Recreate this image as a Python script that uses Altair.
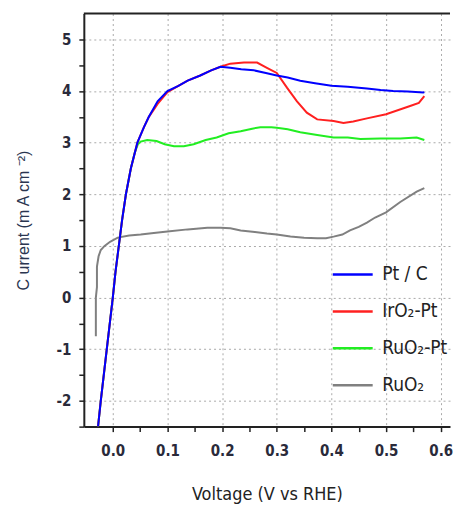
import altair as alt
import pandas as pd

series_names = ["Pt / C", "IrO₂-Pt", "RuO₂-Pt", "RuO₂"]
series_colors = ["#0000ff", "#ff2020", "#22ee22", "#808080"]

blue_v = [-0.027, -0.022, -0.011, 0.0, 0.005, 0.011, 0.017, 0.024, 0.033, 0.045, 0.057, 0.066, 0.082, 0.1,
          0.12, 0.137, 0.16, 0.18, 0.197, 0.215, 0.235, 0.258, 0.28, 0.30, 0.32, 0.343, 0.37, 0.40, 0.43,
          0.465, 0.49, 0.513, 0.54, 0.568, 0.57]
blue_i = [-2.5, -2.0, -1.0, 0.0, 0.5, 1.0, 1.5, 2.0, 2.5, 3.0, 3.3, 3.5, 3.8, 4.0,
          4.1, 4.2, 4.3, 4.4, 4.47, 4.45, 4.42, 4.4, 4.35, 4.3, 4.26, 4.2, 4.15, 4.1, 4.08,
          4.05, 4.02, 4.0, 3.99, 3.97, 3.98]

red_v = [-0.027, -0.022, -0.011, 0.0, 0.005, 0.011, 0.017, 0.024, 0.033, 0.045, 0.057, 0.066, 0.082, 0.1,
         0.12, 0.137, 0.16, 0.18, 0.197, 0.215, 0.24, 0.264, 0.282, 0.30, 0.319, 0.337, 0.355, 0.374,
         0.404, 0.422, 0.44, 0.465, 0.50, 0.544, 0.56, 0.57]
red_i = [-2.5, -2.0, -1.0, 0.0, 0.5, 1.0, 1.5, 2.0, 2.5, 3.0, 3.3, 3.5, 3.75, 3.98,
         4.1, 4.2, 4.3, 4.4, 4.47, 4.53, 4.55, 4.55, 4.45, 4.35, 4.06, 3.8, 3.58, 3.45,
         3.42, 3.38, 3.41, 3.47, 3.55, 3.71, 3.77, 3.9]

green_v = [-0.027, -0.022, -0.011, 0.0, 0.005, 0.011, 0.017, 0.024, 0.033, 0.04, 0.046, 0.051, 0.063,
           0.08, 0.095, 0.112, 0.13, 0.148, 0.17, 0.19, 0.212, 0.234, 0.255, 0.27, 0.29, 0.30, 0.32,
           0.343, 0.374, 0.404, 0.43, 0.453, 0.49, 0.526, 0.556, 0.57]
green_i = [-2.5, -2.0, -1.0, 0.0, 0.5, 1.0, 1.5, 2.0, 2.5, 2.8, 2.97, 3.02, 3.05,
           3.03, 2.97, 2.93, 2.93, 2.97, 3.05, 3.1, 3.18, 3.22, 3.27, 3.3, 3.3, 3.29, 3.26,
           3.2, 3.15, 3.1, 3.1, 3.07, 3.08, 3.08, 3.1, 3.05]

gray_v = [-0.031, -0.031, -0.029, -0.029, -0.026, -0.022, -0.015, -0.005, 0.009, 0.03, 0.051, 0.075,
          0.1, 0.137, 0.173, 0.197, 0.215, 0.234, 0.26, 0.282, 0.30, 0.325, 0.35, 0.374, 0.39, 0.404,
          0.42, 0.434, 0.45, 0.465, 0.48, 0.50, 0.526, 0.556, 0.57]
gray_i = [-0.75, 0.0, 0.2, 0.6, 0.8, 0.92, 1.0, 1.08, 1.16, 1.2, 1.22, 1.25,
          1.28, 1.32, 1.35, 1.35, 1.34, 1.3, 1.27, 1.24, 1.22, 1.18, 1.16, 1.15, 1.15, 1.18,
          1.22, 1.3, 1.37, 1.45, 1.55, 1.65, 1.85, 2.05, 2.12]

x_ticks = [0.0, 0.05, 0.1, 0.15, 0.2, 0.25, 0.3, 0.35, 0.4, 0.45, 0.5, 0.55, 0.6]
y_ticks = [-2.5, -2, -1.5, -1, -0.5, 0, 0.5, 1, 1.5, 2, 2.5, 3, 3.5, 4, 4.5, 5]

rows = []
for name, vs, cs, ordr in [("RuO₂", gray_v, gray_i, 0), ("RuO₂-Pt", green_v, green_i, 1),
                           ("IrO₂-Pt", red_v, red_i, 2), ("Pt / C", blue_v, blue_i, 3)]:
    for k, (v, c) in enumerate(zip(vs, cs)):
        rows.append({"series": name, "v": v, "i": c, "k": k, "layer": ordr})
df = pd.DataFrame(rows)

W, H = 367, 414
xs = alt.Scale(domain=[-0.053, 0.617], nice=False, zero=False)
ys = alt.Scale(domain=[-2.5, 5.5], nice=False, zero=False)
FONT = "DejaVu Sans Condensed, Liberation Sans, sans-serif"

x_major = "round(datum.value*100) % 10 == 0"
y_major = "round(datum.value*10) % 10 == 0"

lines = alt.Chart(df).mark_line(strokeWidth=2, clip=True).encode(
    x=alt.X("v:Q", scale=xs,
            axis=alt.Axis(values=x_ticks, title="Voltage (V vs RHE)", labelOverlap=False,
                          labelExpr=f"({x_major}) ? format(datum.value, '.1f') : ''",
                          grid=True, gridDash=[2, 3], gridColor="#aaaaaa",
                          gridOpacity={"condition": {"test": x_major, "value": 1}, "value": 0},
                          tickSize=5, tickWidth=1.5, tickColor="#222",
                          domainColor="#222", domainWidth=2,
                          labelFont=FONT, labelFontSize=15, labelFontWeight="bold",
                          labelColor="#2a2a3a", labelPadding=12,
                          titleFont=FONT, titleFontSize=18, titleFontWeight="normal",
                          titleColor="#222", titlePadding=27)),
    y=alt.Y("i:Q", scale=ys,
            axis=alt.Axis(values=y_ticks, title="C urrent (m A cm ⁻²)", labelOverlap=False,
                          labelExpr=f"({y_major}) ? replace(format(datum.value, 'd'), '\u2212', '-') : ''",
                          grid=True, gridDash=[2, 3], gridColor="#aaaaaa",
                          gridOpacity={"condition": {"test": y_major, "value": 1}, "value": 0},
                          tickSize=5, tickWidth=1.5, tickColor="#222",
                          domainColor="#222", domainWidth=2,
                          labelFont=FONT, labelFontSize=15, labelFontWeight="bold",
                          labelColor="#2a2a3a", labelPadding=8,
                          titleFont="Liberation Sans", titleFontSize=16, titleFontWeight="normal",
                          titleColor="#2a3550", titlePadding=24)),
    color=alt.Color("series:N", scale=alt.Scale(domain=series_names, range=series_colors),
                    legend=alt.Legend(title=None, orient="none", legendX=248, legendY=240,
                                      symbolType="stroke", symbolSize=1600, symbolStrokeWidth=2.5,
                                      labelFont=FONT, labelFontSize=19, labelColor="#222",
                                      rowPadding=5, labelOffset=8)),
    detail="layer:N",
    order="k:Q",
)

topline = alt.Chart(pd.DataFrame({"a": [0]})).mark_rule(color="#222", strokeWidth=2).encode(
    x=alt.value(0), x2=alt.value(W), y=alt.value(0)
)

chart = alt.layer(lines, topline).properties(
    width=W, height=H, padding={"left": 8, "top": 4, "right": 0, "bottom": 5}
).configure_view(stroke=None)

chart.save("out.html", embed_options={"renderer": "svg", "actions": False})
